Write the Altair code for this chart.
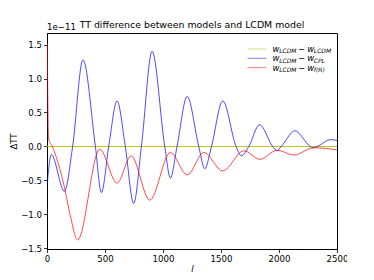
import altair as alt
import pandas as pd

# multipole l and difference values (units of 1e-11)
ell_blue = [2, 37, 150, 221, 310, 417, 469, 532, 604, 675, 747, 814, 906, 1015,
            1064, 1121, 1208, 1308, 1360, 1418, 1515, 1630, 1675, 1740, 1832,
            1945, 1981, 2020, 2137, 2270, 2295, 2330, 2445, 2500]
v_blue = [-0.55, -0.12, -0.66, 0.0, 1.275, 0.0, -0.68, 0.0, 0.67, 0.0, -0.84, 0.0,
          1.40, 0.0, -0.465, 0.0, 0.735, 0.0, -0.33, 0.0, 0.67, 0.0, -0.137, 0.0,
          0.32, 0.0, -0.063, 0.0, 0.23, 0.0, -0.02, 0.0, 0.10, 0.088]

ell_red = [2, 14, 43, 150, 201, 264, 454, 604, 725, 886, 1064, 1208, 1352, 1515,
           1697, 1835, 1985, 2128, 2300, 2500]
v_red = [1.52, 0.11, 0.01, -0.60, -1.02, -1.377, -0.04, -0.54, -0.14, -0.79,
         -0.088, -0.42, -0.088, -0.36, -0.063, -0.19, -0.055, -0.127, -0.02, -0.05]

ell_zero = [0, 2500]
v_zero = [0.0, 0.0]

series_names = ["LCDM-LCDM", "LCDM-CPL", "LCDM-f(R)"]
series_colors = ["#bfbf00", "#0000ff", "#ff0000"]
legend_subs = ["LCDM", "CPL", "f(R)"]

x_ticks = [0, 500, 1000, 1500, 2000, 2500]
y_ticks = [-1.5, -1.0, -0.5, 0.0, 0.5, 1.0, 1.5]

title_text = "TT difference between models and LCDM model"

rows = []
for name, ls, vs in zip(series_names, [ell_zero, ell_blue, ell_red], [v_zero, v_blue, v_red]):
    for l, v in zip(ls, vs):
        rows.append({"series": name, "l": l, "v": v})
df = pd.DataFrame(rows)

FONT = "DejaVu Sans"

base = alt.Chart(df).mark_line(strokeWidth=1, interpolate="monotone", clip=True).encode(
    x=alt.X("l:Q", scale=alt.Scale(domain=[0, 2500], nice=False, zero=False),
            axis=alt.Axis(values=x_ticks, format="d", title="l", titleFontStyle="italic",
                          titleColor="#000000", titleBaseline="alphabetic", titleY=22)),
    y=alt.Y("v:Q", scale=alt.Scale(domain=[-1.51, 1.67], nice=False, zero=False),
            axis=alt.Axis(values=y_ticks, format=".1f", title="ΔTT", titleColor="#000000",
                          titleBaseline="alphabetic", titleX=-31, titleAngle=270)),
    color=alt.Color("series:N", scale=alt.Scale(domain=series_names, range=series_colors), legend=None),
    opacity=alt.condition(alt.datum.series == "LCDM-LCDM", alt.value(0.95), alt.value(0.7)),
    order=alt.Order("l:Q"),
)

one = pd.DataFrame({"k": [0]})
layers = [base]

# chart title
layers.append(alt.Chart(one).mark_text(text=title_text, align="center", baseline="alphabetic",
                                       fontSize=9.4, font=FONT, color="#000").encode(
    x=alt.value(145), y=alt.value(-5)))

# offset text "1e-11"
layers.append(alt.Chart(one).mark_text(text="1e−11", align="left", baseline="alphabetic",
                                       fontSize=8.6, font=FONT, color="#000").encode(
    x=alt.value(0), y=alt.value(-3.5)))

# legend
row_y = [16, 25.3, 34.6]
for i in range(3):
    y0 = row_y[i]
    layers.append(alt.Chart(one).mark_rule(color=series_colors[i], strokeWidth=1,
                                           opacity=0.5).encode(
        x=alt.value(200.6), x2=alt.value(219.3), y=alt.value(y0)))
    pieces = [("w", 0, 8.5, 0, "italic"), ("LCDM", 6.6, 6, 2.3, "italic"),
              ("−", 25.4, 8.5, 0, "normal"), ("w", 34.6, 8.5, 0, "italic"),
              (legend_subs[i], 41.2, 6, 2.3, "italic")]
    for txt, dx, fs, dy, style in pieces:
        layers.append(alt.Chart(one).mark_text(text=txt, align="left", baseline="middle",
                                               fontSize=fs, font=FONT, fontStyle=style,
                                               color="#000").encode(
            x=alt.value(225.6 + dx), y=alt.value(y0 + dy)))

chart = alt.layer(*layers).properties(
    width=290, height=216,
    autosize=alt.AutoSizeParams(type="none"),
    padding={"left": 39, "top": 25, "right": 10, "bottom": 23},
).configure_view(stroke="#000", strokeWidth=1).configure_axis(
    grid=False, domainColor="#000", tickColor="#000", labelColor="#000", titleColor="#000",
    labelFont=FONT, titleFont=FONT, labelFontSize=8.6, titleFontSize=8.6, titleFontWeight="normal",
    tickSize=3.5, labelPadding=2, domainWidth=1, tickWidth=0.8,
).configure_axisX(labelFlush=False).configure_axisY(labelFlush=False)

chart.save("out.html", embed_options={"renderer": "svg", "actions": False})
